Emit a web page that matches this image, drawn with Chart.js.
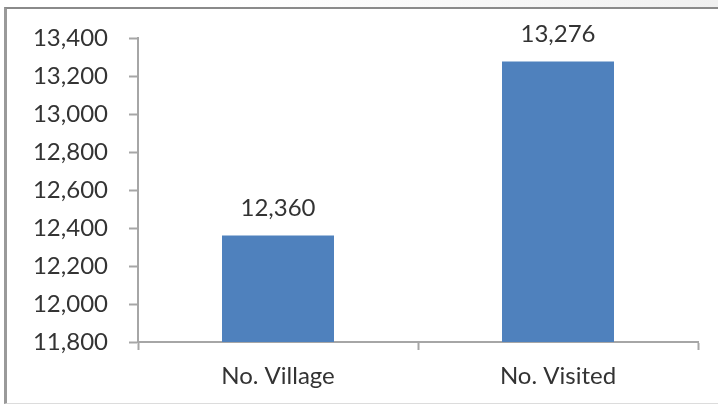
<!DOCTYPE html>
<html>
<head>
<meta charset="utf-8">
<script src="https://cdn.jsdelivr.net/npm/chart.js@4"></script>
<style>
    html, body {
        margin: 0;
        padding: 0;
        background: #fff;
    }
    body {
        width: 718px;
        height: 405px;
        position: relative;
        overflow: hidden;
        background: linear-gradient(to right, #fff 0%, #fff 30%, #f0f0f0 100%) top / 100% 7px no-repeat, #fff;
    }
    #frame {
        position: absolute;
        left: 4px;
        top: 7px;
        width: 730px;
        height: 394px;
        border-left: 3px solid #9a9a9a;
        border-top: 2px solid #8a8a8a;
        border-bottom: 1px solid #dcdcdc;
        background: #fff;
    }
    #wrap {
        position: absolute;
        left: 0;
        top: 0;
        width: 718px;
        height: 405px;
    }
</style>
</head>
<body>
<div id="frame"></div>
<div id="wrap"><canvas id="chart" width="718" height="405"></canvas></div>
<script>
// 数据
const categories = ['No. Village', 'No. Visited'];
const counts = [12360, 13276];
const yMin = 11800;
const yMax = 13400;
const yStep = 200;

const labelColor = '#333333';
const lineColor = '#a6a6a6';
const fontFamily = 'Lato';
const fontSize = 24;

// 柱顶数值标签
const valueLabels = {
    id: 'valueLabels',
    afterDatasetsDraw(chart) {
        const { ctx } = chart;
        const meta = chart.getDatasetMeta(0);
        ctx.save();
        ctx.font = `${fontSize}px ${fontFamily}`;
        ctx.fillStyle = labelColor;
        ctx.textAlign = 'center';
        ctx.textBaseline = 'middle';
        meta.data.forEach((bar, i) => {
            ctx.fillText(counts[i].toLocaleString('en-US'), bar.x, bar.y - 27);
        });
        ctx.restore();
    }
};

new Chart(document.getElementById('chart'), {
    type: 'bar',
    data: {
        labels: categories,
        datasets: [{
            data: counts,
            backgroundColor: '#4f81bd',
            borderWidth: 0,
            barPercentage: 0.4,
            categoryPercentage: 1,
        }],
    },
    options: {
        responsive: false,
        animation: false,
        events: [],
        layout: {
            padding: { left: 0, right: 20, top: 38, bottom: 0 },
        },
        plugins: {
            legend: { display: false },
            tooltip: { enabled: false },
        },
        scales: {
            x: {
                afterFit: (scale) => { scale.height = 63; },
                grid: {
                    display: true,
                    drawOnChartArea: false,
                    drawTicks: true,
                    tickLength: 8,
                    tickWidth: 2,
                    color: lineColor,
                    offset: true,
                },
                border: { color: lineColor, width: 2 },
                ticks: {
                    color: labelColor,
                    font: { family: fontFamily, size: fontSize },
                    padding: 12,
                },
            },
            y: {
                min: yMin,
                max: yMax,
                afterFit: (scale) => { scale.width = 138; },
                grid: {
                    display: true,
                    drawOnChartArea: false,
                    drawTicks: true,
                    tickLength: 9,
                    tickWidth: 2,
                    color: lineColor,
                },
                border: { color: lineColor, width: 2 },
                ticks: {
                    stepSize: yStep,
                    color: labelColor,
                    font: { family: fontFamily, size: fontSize },
                    padding: 21,
                    callback: (v) => v.toLocaleString('en-US'),
                },
            },
        },
    },
    plugins: [valueLabels],
});
</script>
</body>
</html>
